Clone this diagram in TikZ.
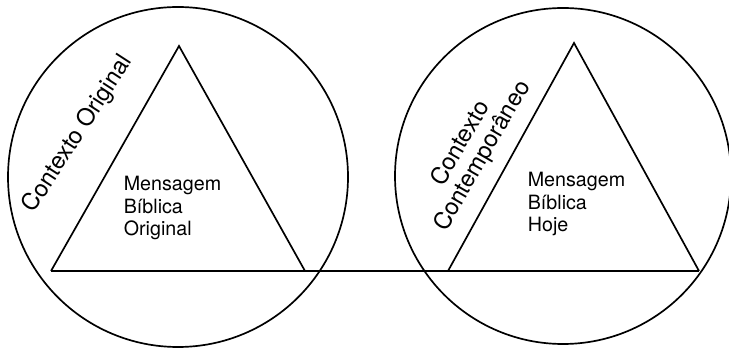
\documentclass[tikz,border=0pt]{standalone}
\usepackage{fontspec}
\setmainfont{TeX Gyre Heros}
\usetikzlibrary{positioning}

\tikzset{
    texto/.style={inner sep=0pt, font=\fontsize{14}{16}\selectfont},
    contexto/.style={inner sep=0pt, align=center, font=\fontsize{16.8}{18}\selectfont}
}

\begin{document}
\begin{tikzpicture}[scale=1, line width=1.2pt]

\useasboundingbox (0,0) rectangle (18.225,8.75);

% Окружности (контексты)
\foreach \x/\y/\r in {4.45/4.325/4.25, 14.075/4.35/4.2} {
    \draw (\x,\y) circle (\r);
}

% Вершины треугольников
\coordinate (topA) at (4.475,7.6);
\coordinate (leftA) at (1.275,1.975);
\coordinate (rightA) at (7.625,1.975);
\coordinate (topB) at (14.35,7.675);
\coordinate (leftB) at (11.2,1.975);
\coordinate (rightB) at (17.475,1.975);

% Треугольники
\draw (leftA) -- (topA) -- (rightA);
\draw (leftB) -- (topB) -- (rightB);

% Общее основание
\draw (leftA) -- (rightB);

% Подписи в треугольниках
\node[texto, align=left, anchor=west] (msgA) at (3.075,3.55) {Mensagem\\Bíblica\\Original};
\node[texto, align=left, anchor=west] (msgB) at (13.175,3.65) {Mensagem\\Bíblica\\Hoje};

% Контексты (наклонные)
\node[contexto, rotate=57] (ctxA) at (1.95,5.4) {Contexto Original};
\node[contexto, rotate=60] (ctxB) at (11.8,5.0) {Contexto\\Contemporâneo};

\end{tikzpicture}
\end{document}
